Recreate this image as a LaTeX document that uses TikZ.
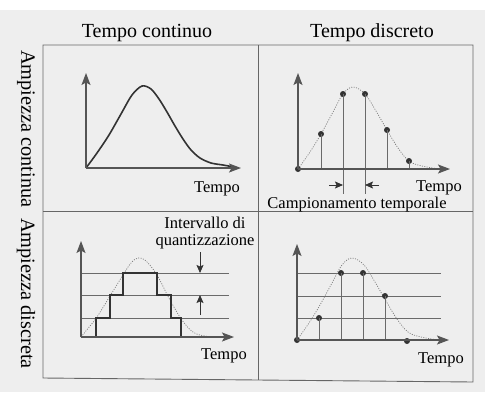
\documentclass[tikz,border=0pt]{standalone}
\usepackage{fontspec}
\setmainfont{Liberation Serif}
\usetikzlibrary{arrows.meta}
\definecolor{bg}{HTML}{EEEEEE}
\definecolor{axc}{HTML}{555555}
\definecolor{dk}{HTML}{333333}
\definecolor{gridc}{HTML}{6A6A6A}
\definecolor{dotc}{HTML}{7A7A7A}
\definecolor{framec}{HTML}{666666}
\begin{document}
\begin{tikzpicture}[x=1pt,y=-1pt,
  frame/.style={draw=framec, line width=0.9pt},
  axis/.style={draw=axc, line width=1.1pt, -{Stealth[length=12pt,width=9pt,inset=2.5pt]}},
  gridline/.style={draw=gridc, line width=0.8pt},
  stem/.style={draw=gridc, line width=0.8pt},
  dotcurve/.style={draw=dotc, line width=0.7pt, dash pattern=on 1pt off 1.4pt},
  curve/.style={draw=dk, line width=1.6pt, line join=round},
  stair/.style={draw=dk, line width=2.5pt, line join=miter},
  sdot/.style={circle, fill=dk, inner sep=0pt, minimum size=6pt},
  smallarrow/.style={draw=dk, line width=0.8pt, -{Stealth[length=8pt,width=7pt,inset=1.5pt]}},
  lab/.style={font=\fontsize{16.5}{19}\selectfont, inner sep=0pt, anchor=base},
  title/.style={font=\fontsize{20}{24}\selectfont, inner sep=0pt, anchor=base},
  side/.style={font=\fontsize{20.3}{24}\selectfont, inner sep=0pt, anchor=west, rotate=-90}
]
\useasboundingbox (0,0) rectangle (485,400);
\fill[white] (0,0) rectangle (485,400);
\fill[bg] (0,10) rectangle (485,392);

% frame
\coordinate (f1) at (43,45);
\coordinate (f2) at (473,45);
\coordinate (f3) at (473,382);
\coordinate (f4) at (43,378);
\coordinate (mt) at (258,45);
\coordinate (mb) at (258,380);
\coordinate (ml) at (43,211);
\coordinate (mr) at (473,211);
\draw[frame] (f1) -- (f2) -- (f3) -- (f4) -- cycle;
\draw[frame] (mt) -- (mb);
\draw[frame] (ml) -- (mr);

% titles
\node[title] (t1) at (147,37) {Tempo continuo};
\node[title] (t2) at (372,37) {Tempo discreto};
\node[side] (s1) at (26,50) {Ampiezza continua};
\node[side] (s2) at (26,218) {Ampiezza discreta};

% ---------- top-left ----------
\coordinate (a1o) at (86,168);
\coordinate (a1y) at (86,73);
\coordinate (a1x) at (241,168);
\draw[curve] plot[smooth, tension=0.5] coordinates {(86,168)(97,153)(109,135)(121,114)(132,95)(142,86)(151,89)(159,99)(167,112)(175,126)(183,139)(191,150)(200,158)(211,163)(223,165)(234,167)};
\draw[axis] (a1o) -- (a1y);
\draw[axis] (a1o) -- (a1x);
\node[lab] (tp1) at (217,192) {Tempo};

% ---------- top-right ----------
\coordinate (a2o) at (298,169);
\coordinate (a2y) at (298,73);
\coordinate (a2x) at (450,169);
\draw[dotcurve] plot[smooth, tension=0.6] coordinates {(298,169)(310,152)(321,134)(333,112)(343,94)(353,87)(365,94)(376,111)(387,130)(398,148)(409,161)(422,166)(440,169)};
\coordinate (b1) at (321,169);
\coordinate (b2) at (343,194);
\coordinate (b3) at (365,194);
\coordinate (b4) at (387,169);
\coordinate (b5) at (409,169);
\node[sdot] (d0) at (298,169) {};
\node[sdot] (d1) at (321,134) {};
\node[sdot] (d2) at (343,94) {};
\node[sdot] (d3) at (365,94) {};
\node[sdot] (d4) at (387,130) {};
\node[sdot] (d5) at (409,161) {};
\draw[stem] (d1.center) -- (b1);
\draw[stem] (d2.center) -- (b2);
\draw[stem] (d3.center) -- (b3);
\draw[stem] (d4.center) -- (b4);
\draw[stem] (d5.center) -- (b5);
\draw[axis] (a2o) -- (a2y);
\draw[axis] (a2o) -- (a2x);
\coordinate (sa1) at (329,185);
\coordinate (sa1e) at (343,185);
\coordinate (sa2) at (379,185);
\coordinate (sa2e) at (365,185);
\draw[smallarrow] (sa1) -- (sa1e);
\draw[smallarrow] (sa2) -- (sa2e);
\node[lab] (tp2) at (439,191) {Tempo};
\node[lab] (camp) at (357,208) {Campionamento temporale};

% ---------- bottom-left ----------
\coordinate (a3o) at (81,337);
\coordinate (a3y) at (81,241);
\coordinate (a3x) at (234,337);
\coordinate (g1a) at (81,318); \coordinate (g1b) at (229,318);
\coordinate (g2a) at (81,295); \coordinate (g2b) at (229,295);
\coordinate (g3a) at (81,273); \coordinate (g3b) at (229,273);
\draw[gridline] (g1a) -- (g1b);
\draw[gridline] (g2a) -- (g2b);
\draw[gridline] (g3a) -- (g3b);
\draw[dotcurve] plot[smooth, tension=0.6] coordinates {(81,337)(90,326)(97,317)(110,296)(123,275)(131,263)(138,258)(146,261)(157,275)(170,300)(182,320)(193,332)(205,336)(222,337)};
\draw[stair] (81,337) -- (96,337) -- (96,318) -- (110,318) -- (110,295) -- (123,295) -- (123,273) -- (157,273) -- (157,295) -- (171,295) -- (171,318) -- (181,318) -- (181,337) -- (220,337);
\draw[axis] (a3o) -- (a3y);
\draw[axis] (a3o) -- (a3x);
\coordinate (q1) at (200,252);
\coordinate (q1e) at (200,273);
\coordinate (q2) at (200,315);
\coordinate (q2e) at (200,295);
\draw[smallarrow] (q1) -- (q1e);
\draw[smallarrow] (q2) -- (q2e);
\node[lab] (iq) at (205,228) {Intervallo di};
\node[lab] (iq2) at (205,245) {quantizzazione};
\node[lab] (tp3) at (224,359) {Tempo};

% ---------- bottom-right ----------
\coordinate (a4o) at (297,340);
\coordinate (a4y) at (297,244);
\coordinate (a4x) at (449,340);
\coordinate (h1a) at (297,318); \coordinate (h1b) at (441,318);
\coordinate (h2a) at (297,296); \coordinate (h2b) at (441,296);
\coordinate (h3a) at (297,273); \coordinate (h3b) at (441,273);
\draw[gridline] (h1a) -- (h1b);
\draw[gridline] (h2a) -- (h2b);
\draw[gridline] (h3a) -- (h3b);
\draw[dotcurve] plot[smooth, tension=0.6] coordinates {(297,340)(309,323)(320,305)(332,283)(342,265)(352,258)(364,265)(375,282)(386,301)(397,319)(408,332)(421,337)(439,340)};
\node[sdot] (e0) at (297,340) {};
\node[sdot] (e1) at (319,318) {};
\node[sdot] (e2) at (341,273) {};
\node[sdot] (e3) at (363,273) {};
\node[sdot] (e4) at (385,296) {};
\node[sdot] (e5) at (407,341) {};
\draw[stem] (e1.center) -- (e1 |- a4o);
\draw[stem] (e2.center) -- (e2 |- a4o);
\draw[stem] (e3.center) -- (e3 |- a4o);
\draw[stem] (e4.center) -- (e4 |- a4o);
\draw[axis] (a4o) -- (a4y);
\draw[axis] (a4o) -- (a4x);
\node[lab] (tp4) at (441,363) {Tempo};
\end{tikzpicture}
\end{document}
